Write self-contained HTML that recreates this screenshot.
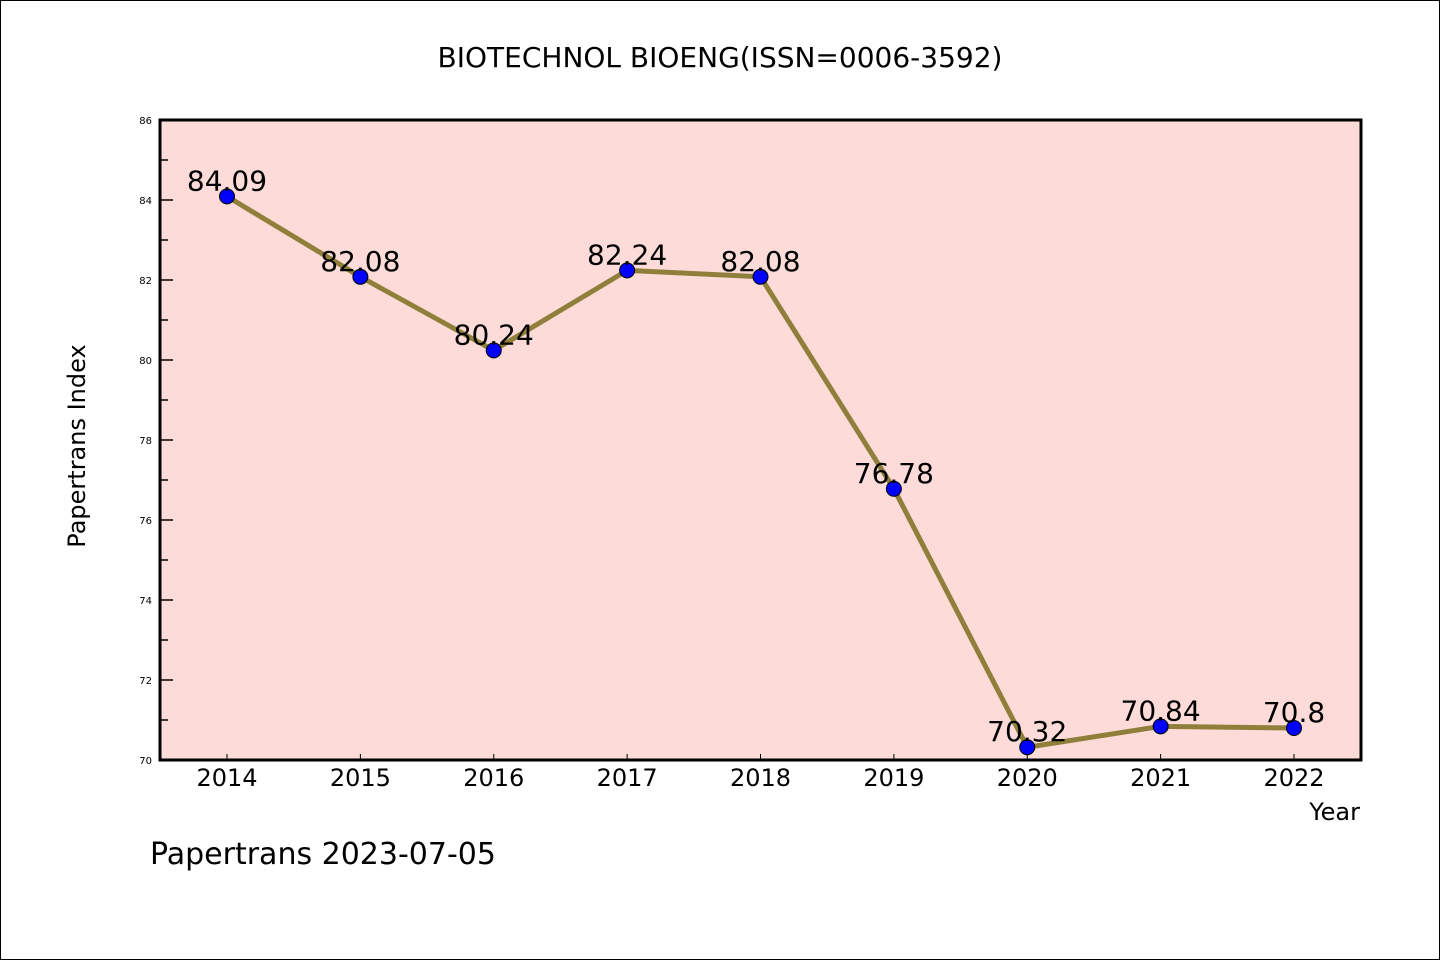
<!DOCTYPE html>
<html><head><meta charset="utf-8"><style>
html,body{margin:0;padding:0;background:#fff}
svg{display:block}
text{font-family:"WenQuanYi Zen Hei Mono","WenQuanYi Zen Hei","DejaVu Sans",sans-serif;fill:#000}
</style></head><body>
<svg id="chart" width="1440" height="960">
<rect x="0.5" y="0.5" width="1439" height="959" fill="#fff" stroke="#000"/>
<text x="720" y="67" font-size="28" text-anchor="middle">BIOTECHNOL BIOENG(ISSN=0006-3592)</text>
<rect x="160" y="120" width="1201" height="640" fill="#fddbd8"/>
<g id="axes"></g>
<g id="series"></g>
<rect x="160" y="120" width="1201" height="640" fill="none" stroke="#000" stroke-width="3"/>
<text transform="translate(85,446) rotate(-90)" font-size="24" text-anchor="middle">Papertrans Index</text>
<text x="1360" y="820" font-size="24" text-anchor="end">Year</text>
<text x="150" y="864" font-size="30">Papertrans 2023-07-05</text>
</svg>
<script>
const years = ["2014","2015","2016","2017","2018","2019","2020","2021","2022"];
const values = [84.09,82.08,80.24,82.24,82.08,76.78,70.32,70.84,70.8];
const valueLabels = ["84.09","82.08","80.24","82.24","82.08","76.78","70.32","70.84","70.8"];
const yTicks = [70,72,74,76,78,80,82,84,86];

const NS="http://www.w3.org/2000/svg";
const yMin=70,yMax=86,plotTop=120,plotBottom=760;
const yScale=v=>plotBottom-(v-yMin)/(yMax-yMin)*(plotBottom-plotTop);
const xScale=i=>227+i*(1294-227)/(years.length-1);
function mk(tag,attrs,parent){const e=document.createElementNS(NS,tag);for(const k in attrs)e.setAttribute(k,attrs[k]);parent.appendChild(e);return e;}
const axesG=document.getElementById('axes'),seriesG=document.getElementById('series');
yTicks.forEach((t,i)=>{
  const l=mk('line',{x1:160,x2:173,y1:yScale(t),y2:yScale(t),stroke:'#000','stroke-width':1.5},axesG);
  
  
  const tx=mk('text',{x:152,y:yScale(t)+4,'font-size':10,'text-anchor':'end'},axesG);
  tx.textContent=t;
  
  
  if(i<yTicks.length-1){
    const m=mk('line',{x1:160,x2:168,y1:yScale(t+1),y2:yScale(t+1),stroke:'#000','stroke-width':1.5},axesG);
    
    
  }
});
years.forEach((yr,i)=>{
  const l=mk('line',{x1:xScale(i),x2:xScale(i),y1:760,y2:754,stroke:'#000','stroke-width':1},axesG);
  
  
  const tx=mk('text',{x:xScale(i),y:786,'font-size':24,'text-anchor':'middle'},axesG);
  tx.textContent=yr;
  
  
});
const pl=mk('polyline',{points:values.map((v,i)=>xScale(i)+','+yScale(v)).join(' '),fill:'none',stroke:'#8f7f3a','stroke-width':5},seriesG);


values.forEach((v,i)=>{
  const c=mk('circle',{cx:xScale(i),cy:yScale(v),r:7.5,fill:'#0000ff',stroke:'#000','stroke-width':1},seriesG);
  
  
  const tx=mk('text',{x:xScale(i),y:yScale(v)-6,'font-size':28,'text-anchor':'middle'},seriesG);
  tx.textContent=valueLabels[i];
  
  
});
</script>
</body></html>
